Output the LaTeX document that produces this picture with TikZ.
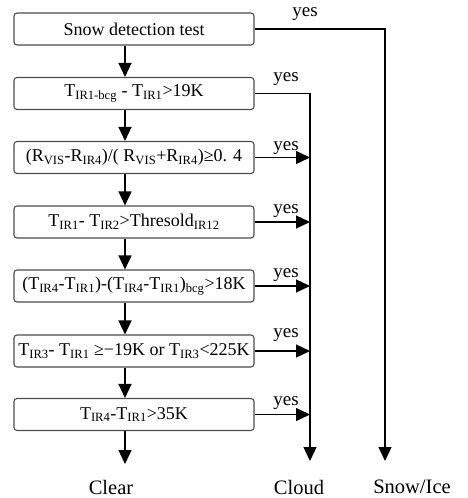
\documentclass[tikz,border=0pt]{standalone}
\usepackage{fontspec}
\setmainfont{Liberation Serif}
\usetikzlibrary{arrows.meta}
\begin{document}
\begin{tikzpicture}[x=1pt,y=-1pt,
  testbox/.style={draw=black!70,line width=1.1pt,rounded corners=3pt,minimum width=240pt,minimum height=32pt,inner sep=0pt,font=\fontsize{18}{20}\selectfont},
  lbl/.style={font=\fontsize{20.5}{22}\selectfont},
  yeslbl/.style={font=\fontsize{19}{20}\selectfont,inner sep=0pt},
  flow/.style={line width=1.3pt,-{Triangle[length=14pt,width=13pt]}},
  line/.style={line width=1.3pt}]
\useasboundingbox (0,0) rectangle (467,498);
\node[testbox] (b1) at (134,29) {Snow detection test};
\node[testbox] (b2) at (134,93.5) {T\textsubscript{IR1-bcg} - T\textsubscript{IR1}>19K};
\node[testbox] (b3) at (134,157.5) {(R\textsubscript{VIS}-R\textsubscript{IR4})/( R\textsubscript{VIS}+R\textsubscript{IR4})≥0. 4};
\node[testbox] (b4) at (134,222) {T\textsubscript{IR1}- T\textsubscript{IR2}>Thresold\textsubscript{IR12}};
\node[testbox] (b5) at (134,286) {(T\textsubscript{IR4}-T\textsubscript{IR1})-(T\textsubscript{IR4}-T\textsubscript{IR1})\textsubscript{bcg}>18K};
\node[testbox] (b6) at (134,351) {T\textsubscript{IR3}- T\textsubscript{IR1} ≥−19K or T\textsubscript{IR3}<225K};
\node[testbox] (b7) at (134,414.5) {T\textsubscript{IR4}-T\textsubscript{IR1}>35K};
\node[lbl] (clear) at (111,487) {Clear};
\node[lbl] (cloud) at (299,487) {Cloud};
\node[lbl] (snow) at (412,487) {Snow/Ice};
\coordinate (ax) at (125,0);
\coordinate (cx) at (310,0);
\coordinate (sx) at (385,0);
\coordinate (cloudtip) at (310,461);
\coordinate (snowtip) at (385,461);
\coordinate (cleartip) at (125,464);
\draw[flow] (b1.south -| ax) -- (b2.north -| ax);
\draw[flow] (b2.south -| ax) -- (b3.north -| ax);
\draw[flow] (b3.south -| ax) -- (b4.north -| ax);
\draw[flow] (b4.south -| ax) -- (b5.north -| ax);
\draw[flow] (b5.south -| ax) -- (b6.north -| ax);
\draw[flow] (b6.south -| ax) -- (b7.north -| ax);
\draw[flow] (b7.south -| ax) -- (cleartip);
\draw[flow] (b1.east) -- (b1.east -| sx) -- (snowtip);
\draw[flow] (b2.east) -- (b2.east -| cx) -- (cloudtip);
\draw[flow] (b3.east) -- (b3.east -| cx);
\draw[flow] (b4.east) -- (b4.east -| cx);
\draw[flow] (b5.east) -- (b5.east -| cx);
\draw[flow] (b6.east) -- (b6.east -| cx);
\draw[flow] (b7.east) -- (b7.east -| cx);
\node[yeslbl] (y1) at (305,14) {yes};
\node[yeslbl] (y2) at (286,79) {yes};
\node[yeslbl] (y3) at (286,148) {yes};
\node[yeslbl] (y4) at (286,211) {yes};
\node[yeslbl] (y5) at (286,275) {yes};
\node[yeslbl] (y6) at (286,335) {yes};
\node[yeslbl] (y7) at (286,403) {yes};
\end{tikzpicture}
\end{document}
